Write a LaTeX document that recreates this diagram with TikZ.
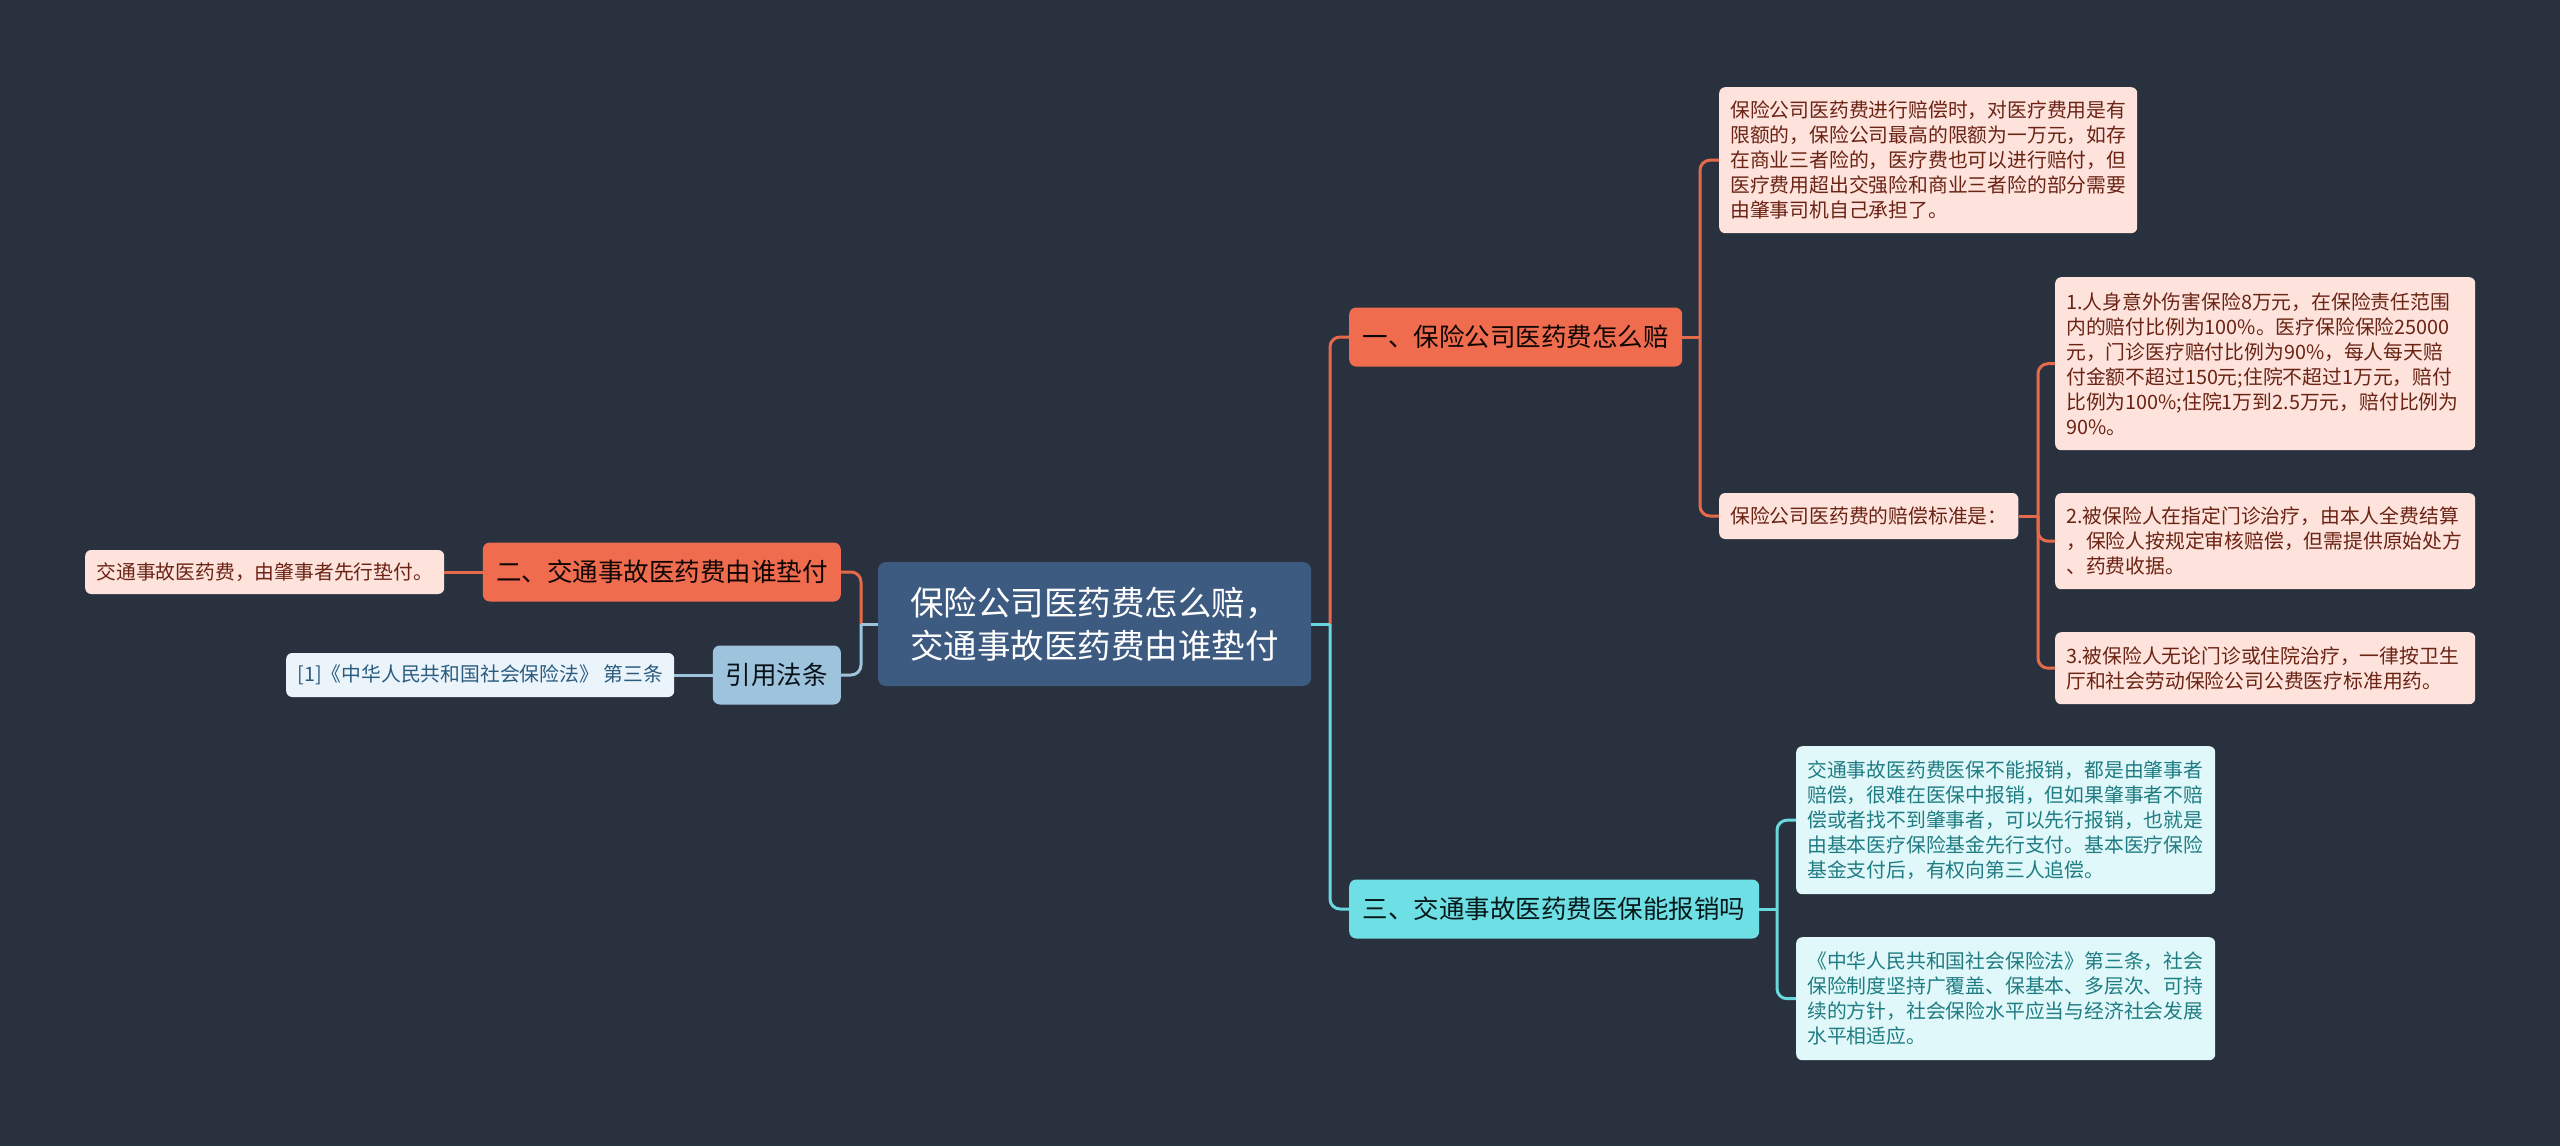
\documentclass[tikz,border=0pt]{standalone}
\usepackage{fontspec}
\newfontfamily\cjk{Noto Sans CJK SC}
\usetikzlibrary{positioning}

\definecolor{bgdark}{HTML}{29313F}
\definecolor{rootblue}{HTML}{3D5A80}
\definecolor{orangemain}{HTML}{EF6C4F}
\definecolor{orangeline}{HTML}{E5694B}
\definecolor{orangeleaf}{HTML}{FDE3DC}
\definecolor{orangetext}{HTML}{6B2314}
\definecolor{cyanmain}{HTML}{6EDFE5}
\definecolor{cyanline}{HTML}{69D8DE}
\definecolor{cyanleaf}{HTML}{E0F8F9}
\definecolor{cyantext}{HTML}{1F7C83}
\definecolor{lawmain}{HTML}{9EC3DC}
\definecolor{lawleaf}{HTML}{EAF4FA}
\definecolor{lawtext}{HTML}{2B5C80}

\begin{document}
\begin{tikzpicture}[
    x=1pt, y=-1pt,
    rootbox/.style={fill=rootblue, text=white, rounded corners=8pt, inner sep=0pt,
        font=\cjk\fontsize{33.5}{43}\selectfont, align=center,
        minimum width=433pt, minimum height=124pt},
    mainbox/.style={rounded corners=7pt, inner sep=0pt, minimum height=59pt,
        font=\cjk\fontsize{25.5}{30}\selectfont},
    leafbox/.style={rounded corners=6pt, inner xsep=11pt, inner ysep=0pt,
        minimum height=44pt, align=left,
        font=\cjk\fontsize{19.8}{25}\selectfont},
    orangeleafbox/.style={leafbox, fill=orangeleaf, text=orangetext},
    cyanleafbox/.style={leafbox, fill=cyanleaf, text=cyantext},
    link/.style={line width=3pt},
]
\useasboundingbox (0,0) rectangle (2560,1146);
\fill[bgdark] (0,0) rectangle (2560,1146);

% Root
\node[rootbox] (root) at (1094.5,624) {保险公司医药费怎么赔，\\交通事故医药费由谁垫付};

% Main branches
\node[mainbox, fill=orangemain, text=black!85!orangetext, minimum width=333pt, anchor=west]
     (one) at (1349,337) {一、保险公司医药费怎么赔};
\node[mainbox, fill=orangemain, text=black!85!orangetext, minimum width=358pt, anchor=east]
     (two) at (841,572) {二、交通事故医药费由谁垫付};
\node[mainbox, fill=cyanmain, text=black!80!cyantext, minimum width=410pt, anchor=west]
     (three) at (1349,909) {三、交通事故医药费医保能报销吗};
\node[mainbox, fill=lawmain, text=black!80!lawtext, minimum width=128pt, anchor=east]
     (law) at (841,675) {引用法条};

% Leaves of branch one
\node[orangeleafbox, text width=396pt, minimum height=146pt, anchor=north west]
     (oneA) at (1719,87) {保险公司医药费进行赔偿时，对医疗费用是有\\限额的，保险公司最高的限额为一万元，如存\\在商业三者险的，医疗费也可以进行赔付，但\\医疗费用超出交强险和商业三者险的部分需要\\由肇事司机自己承担了。};
\node[orangeleafbox, minimum width=299pt, minimum height=46pt, anchor=west]
     (oneB) at (1719,516) {保险公司医药费的赔偿标准是：};
\node[orangeleafbox, text width=398pt, minimum height=173pt, anchor=north west]
     (oneBa) at (2055,277) {1.人身意外伤害保险8万元，在保险责任范围\\内的赔付比例为100\%。医疗保险保险25000\\元，门诊医疗赔付比例为90\%，每人每天赔\\付金额不超过150元;住院不超过1万元，赔付\\比例为100\%;住院1万到2.5万元，赔付比例为\\90\%。};
\node[orangeleafbox, text width=398pt, minimum height=96pt, anchor=north west]
     (oneBb) at (2055,493) {2.被保险人在指定门诊治疗，由本人全费结算\\，保险人按规定审核赔偿，但需提供原始处方\\、药费收据。};
\node[orangeleafbox, text width=398pt, minimum height=72pt, anchor=north west]
     (oneBc) at (2055,632) {3.被保险人无论门诊或住院治疗，一律按卫生\\厅和社会劳动保险公司公费医疗标准用药。};

% Leaf of branch two
\node[orangeleafbox, minimum width=359pt, anchor=west]
     (twoA) at (85,572) {交通事故医药费，由肇事者先行垫付。};

% Leaves of branch three
\node[cyanleafbox, text width=397pt, minimum height=148pt, anchor=north west]
     (threeA) at (1796,746) {交通事故医药费医保不能报销，都是由肇事者\\赔偿，很难在医保中报销，但如果肇事者不赔\\偿或者找不到肇事者，可以先行报销，也就是\\由基本医疗保险基金先行支付。基本医疗保险\\基金支付后，有权向第三人追偿。};
\node[cyanleafbox, text width=397pt, minimum height=123pt, anchor=north west]
     (threeB) at (1796,937) {《中华人民共和国社会保险法》第三条，社会\\保险制度坚持广覆盖、保基本、多层次、可持\\续的方针，社会保险水平应当与经济社会发展\\水平相适应。};

% Leaf of law
\node[leafbox, fill=lawleaf, text=lawtext, minimum width=388pt, anchor=west]
     (lawA) at (286,675) {[1]《中华人民共和国社会保险法》 第三条};

% Junctions
\coordinate (jR) at (1330,624);
\coordinate (jL) at (861,624);
\coordinate (jOne) at (1700,337);
\coordinate (jStd) at (2038,516);
\coordinate (jThree) at (1777,909);

% Root to main branches
\draw[link, orangeline, rounded corners=10pt] (jR) |- (one.west);
\draw[link, cyanline, rounded corners=10pt] (jR) |- (three.west);
\draw[link, cyanline] (root.east) -- (jR);
\draw[link, orangeline, rounded corners=10pt] (jL) |- (two.east);
\draw[link, lawmain, rounded corners=10pt] (jL) |- (law.east);
\draw[link, lawmain] (root.west) -- (jL);

% Branch one
\draw[link, orangeline] (one.east) -- (jOne);
\draw[link, orangeline, rounded corners=10pt] (jOne) |- (oneA.west);
\draw[link, orangeline, rounded corners=10pt] (jOne) |- (oneB.west);
\draw[link, orangeline] (oneB.east) -- (jStd);
\draw[link, orangeline, rounded corners=10pt] (jStd) |- (oneBa.west);
\draw[link, orangeline, rounded corners=10pt] (jStd) |- (oneBb.west);
\draw[link, orangeline, rounded corners=10pt] (jStd) |- (oneBc.west);

% Branch two and law
\draw[link, orangeline] (two.west) -- (twoA.east);
\draw[link, lawmain] (law.west) -- (lawA.east);

% Branch three
\draw[link, cyanline] (three.east) -- (jThree);
\draw[link, cyanline, rounded corners=10pt] (jThree) |- (threeA.west);
\draw[link, cyanline, rounded corners=10pt] (jThree) |- (threeB.west);

\end{tikzpicture}
\end{document}
